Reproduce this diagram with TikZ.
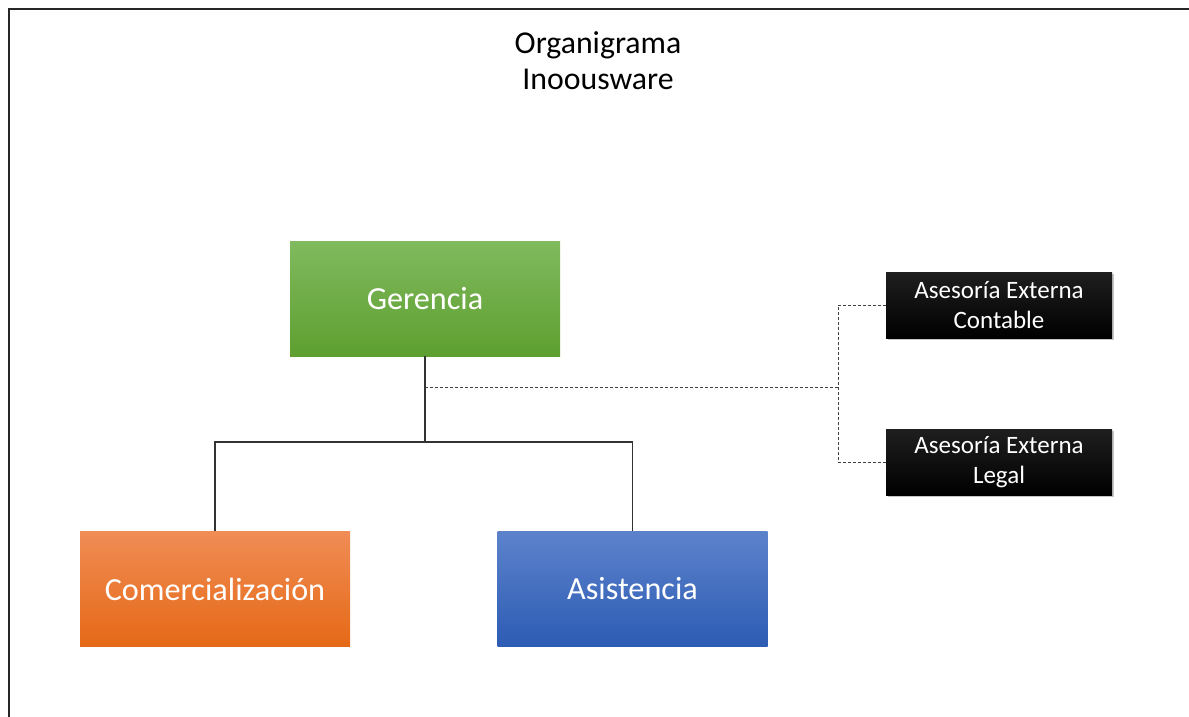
\documentclass[tikz,border=0pt]{standalone}
\usepackage{fontspec}
\setmainfont{Carlito}
\usepackage{xcolor}
\usepackage{tikz}
\usetikzlibrary{shadows}

\definecolor{gertop}{HTML}{80BA5E}
\definecolor{gerbot}{HTML}{5E9F30}
\definecolor{comtop}{HTML}{F08C55}
\definecolor{combot}{HTML}{E56916}
\definecolor{asitop}{HTML}{5C82CB}
\definecolor{asibot}{HTML}{2D5CB4}

\tikzset{
  area/.style={minimum width=270pt,minimum height=115pt,inner sep=0pt,text=white,
    font=\fontsize{32.2}{36}\selectfont},
  asesor/.style={minimum width=226pt,minimum height=66pt,inner sep=0pt,text=white,align=center,
    top color=black!88,bottom color=black,
    drop shadow={shadow xshift=2pt,shadow yshift=-2pt,fill=black!45},
    font=\fontsize{25}{30}\selectfont},
  linea/.style={line width=1.1pt,black!80},
  apoyo/.style={line width=1pt,black!75,dash pattern=on 3pt off 2pt}
}

\begin{document}
\begin{tikzpicture}[x=1pt,y=-1pt]
\useasboundingbox (0,0) rectangle (1189,717);
\draw[line width=2pt,black!85] (1210,9.5) -- (8.5,9.5) -- (8.5,730);
\node[align=center,font=\fontsize{31.8}{36}\selectfont] (titulo) at (598,61) {Organigrama\\Inoousware};
\node[area,top color=gertop,bottom color=gerbot] (ger) at (425,298.5) {Gerencia};
\node[area,top color=comtop,bottom color=combot] (com) at (215,589) {Comercialización};
\node[area,top color=asitop,bottom color=asibot] (asi) at (632.5,589) {Asistencia};
\node[asesor] (cont) at (999,305) {Asesoría Externa\\Contable};
\node[asesor] (legal) at (999,462) {Asesoría Externa\\Legal};
\coordinate (rama) at (425,442);
\coordinate (punto) at (425,387);
\coordinate (nudo) at (838,387);
\draw[linea] (ger.south) -- (rama);
\draw[linea] (com.north) |- (rama) -| (asi.north);
\draw[apoyo] (punto) -- (nudo);
\draw[apoyo] (cont.west) -| (nudo) |- (legal.west);
\end{tikzpicture}
\end{document}
